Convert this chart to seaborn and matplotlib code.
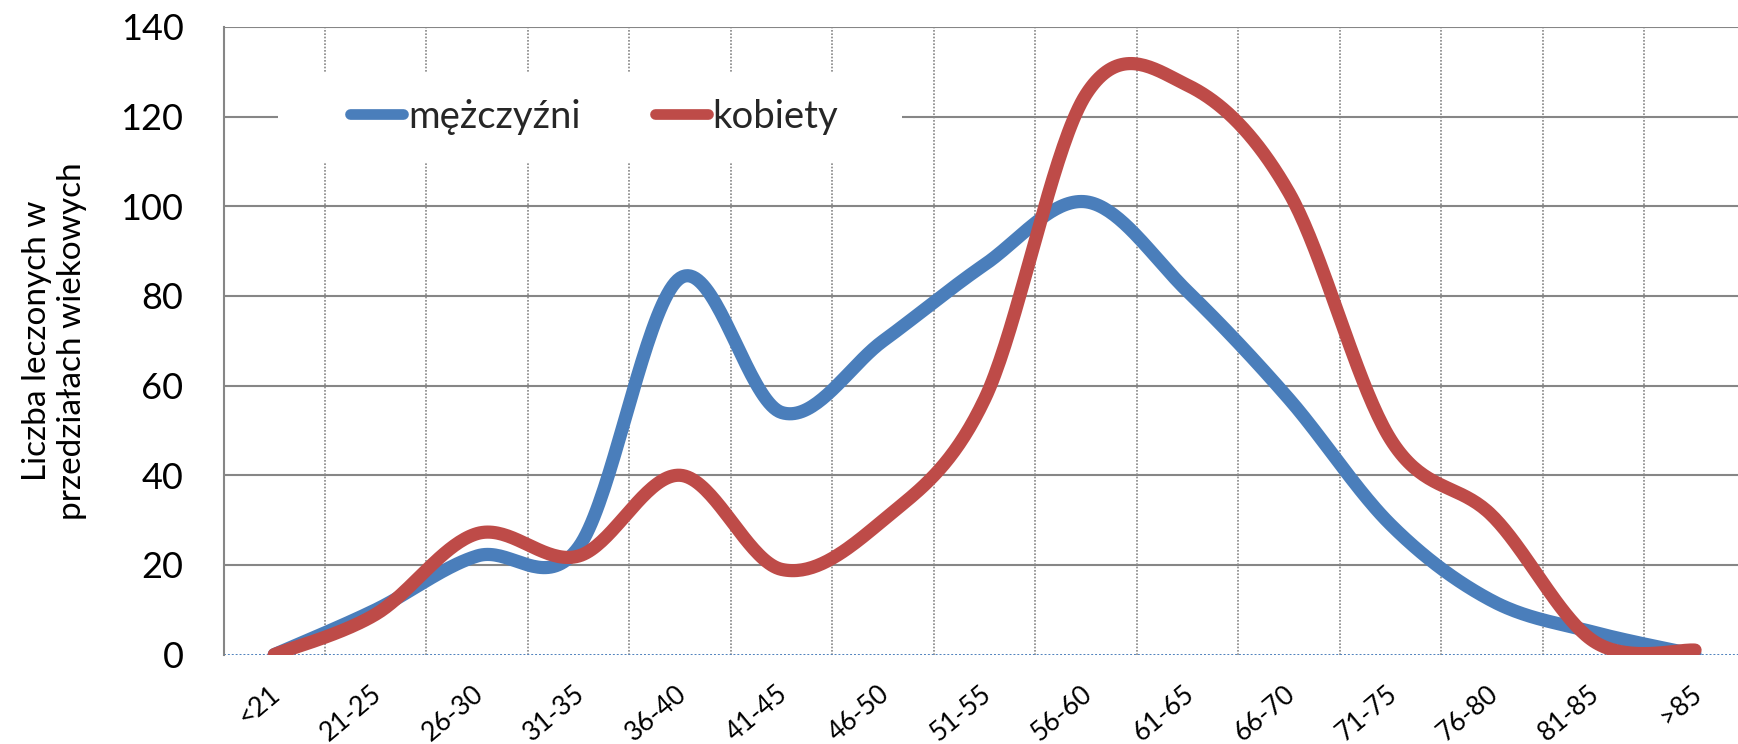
import numpy as np
import pandas as pd
import matplotlib
matplotlib.use("Agg")
import matplotlib.pyplot as plt
import matplotlib.transforms as mtransforms
import seaborn as sns
from matplotlib.patches import Rectangle

# Age groups and number of treated patients per group
age_groups = ["<21", "21-25", "26-30", "31-35", "36-40", "41-45", "46-50", "51-55",
              "56-60", "61-65", "66-70", "71-75", "76-80", "81-85", ">85"]
men = [0, 10, 22, 24, 84, 54, 70, 87, 101, 81, 57, 29, 12, 5, 0]
women = [0, 9, 27, 22, 40, 19, 30, 57, 125, 127, 103, 48, 31, 3, 1]
series_names = ["mężczyźni", "kobiety"]
series_colors = ["#4A7EBB", "#BE4B48"]
y_ticks = [0, 20, 40, 60, 80, 100, 120, 140]
y_title = "Liczba leczonych w\nprzedziałach wiekowych"


def smooth(values, steps=40):
    """Bezier smoothing through every point (control points at +-1/6 of the
    neighbour difference), as used by spreadsheet 'smoothed line' charts."""
    pts = np.column_stack([np.arange(len(values), dtype=float),
                           np.asarray(values, dtype=float)])
    n = len(pts)
    xs, ys = [], []
    for i in range(n - 1):
        p0 = pts[max(i - 1, 0)]
        p1 = pts[i]
        p2 = pts[i + 1]
        p3 = pts[min(i + 2, n - 1)]
        c1 = p1 + (p2 - p0) / 6.0
        c2 = p2 - (p3 - p1) / 6.0
        t = np.linspace(0, 1, steps, endpoint=(i == n - 2))[:, None]
        seg = ((1 - t) ** 3) * p1 + 3 * ((1 - t) ** 2) * t * c1 \
            + 3 * (1 - t) * (t ** 2) * c2 + (t ** 3) * p2
        xs.append(seg[:, 0])
        ys.append(seg[:, 1])
    return np.concatenate(xs), np.concatenate(ys)


frames = []
for name, vals in zip(series_names, [men, women]):
    sx, sy = smooth(vals)
    frames.append(pd.DataFrame({"x": sx, "y": sy, "series": name}))
df = pd.concat(frames, ignore_index=True)

sns.set_theme(style="white")
plt.rcParams["font.family"] = ["Lato", "DejaVu Sans"]

W, H, DPI = 1738, 744, 100
PX = 72 / DPI  # points per pixel
fig = plt.figure(figsize=(W / DPI, H / DPI), dpi=DPI)
ax_left, ax_right = 223.5, 1745.8
ax_top, ax_bottom = 27.0, 654.6
ax = fig.add_axes([ax_left / W, 1 - ax_bottom / H,
                   (ax_right - ax_left) / W, (ax_bottom - ax_top) / H])

grid_col = "#868686"

sns.lineplot(data=df, x="x", y="y", hue="series", hue_order=series_names,
             palette=series_colors, sort=False, estimator=None,
             linewidth=9.5, ax=ax, legend=False, zorder=3)
for ln in ax.get_lines():
    ln.set_solid_capstyle("round")
    ln.set_solid_joinstyle("round")

ax.set_xlim(-0.5, len(age_groups) - 0.5)
ax.set_ylim(0, 140)

# horizontal gridlines (solid), vertical gridlines between categories (dotted)
for v in y_ticks[1:]:
    ax.axhline(v, color=grid_col, lw=1.5, zorder=0.5)
for k in range(1, len(age_groups)):
    ax.axvline(k - 0.5, color=grid_col, lw=1.2, ls=(0, (1.0, 1.0)), zorder=0.5)
# category axis drawn as a fine dotted blue line
ax.axhline(0, color="#4F81BD", lw=1.4, ls=(0, (1.0, 1.0)), zorder=2.5)

for s in ["top", "right", "bottom"]:
    ax.spines[s].set_visible(False)
ax.spines["left"].set_color(grid_col)
ax.spines["left"].set_linewidth(1.5)

ax.set_yticks(y_ticks)
ax.set_yticklabels([str(v) for v in y_ticks], fontsize=26, color="black")
ax.tick_params(axis="y", length=0, pad=40 * PX)

ax.set_xticks(range(len(age_groups)))
ax.set_xticklabels(age_groups, fontsize=19, color="black", rotation=40,
                   ha="right", va="center", rotation_mode="anchor")
ax.tick_params(axis="x", length=0, pad=0)
shift = mtransforms.ScaledTranslation(3 / DPI, -36 / DPI, fig.dpi_scale_trans)
for lbl in ax.get_xticklabels():
    lbl.set_transform(lbl.get_transform() + shift)

ax.set_xlabel("")
ax.set_ylabel(y_title, fontsize=24, color="black", linespacing=1.2)
ax.yaxis.set_label_coords((87 - ax_left) / (ax_right - ax_left), 0.5)

# white legend panel over the gridlines
y_per_px = 140 / (ax_bottom - ax_top)
x_per_px = 1 / (ax_right - ax_left)
blend = mtransforms.blended_transform_factory(ax.transAxes, ax.transData)
ax.add_patch(Rectangle(((277.7 - ax_left) * x_per_px, (ax_bottom - 161.7) * y_per_px),
                       (902.3 - 277.7) * x_per_px, (161.7 - 73.0) * y_per_px,
                       transform=blend, facecolor="white", edgecolor="none", zorder=1))

handles = [plt.Line2D([], [], color=c, lw=7.7, solid_capstyle="round") for c in series_colors]
fs_leg = 27.5
em = fs_leg / PX
ax.legend(handles, series_names, ncol=2, frameon=False, fontsize=fs_leg,
          loc="center left", bbox_to_anchor=((350 - ax_left) * x_per_px, 120 / 140),
          borderpad=0, borderaxespad=0, handlelength=53 / em,
          handletextpad=5 / em, columnspacing=74 / em)

fig.savefig("out.png", dpi=DPI, facecolor="white")
